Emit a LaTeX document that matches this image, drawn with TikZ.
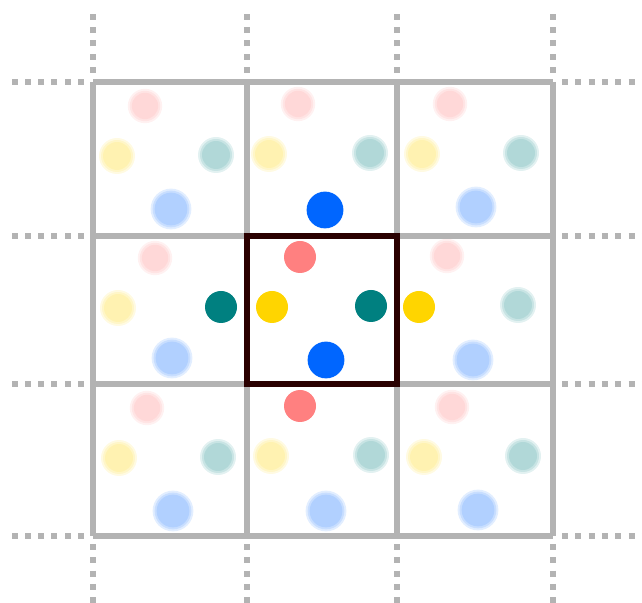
\documentclass[tikz,border=0pt]{standalone}
\usepackage{tikz}
\usepackage{xcolor}

\definecolor{atompink}{HTML}{FF8080}
\definecolor{atomyellow}{HTML}{FFD500}
\definecolor{atomteal}{HTML}{008080}
\definecolor{atomblue}{HTML}{0066FF}
\definecolor{cellgray}{HTML}{B3B3B3}
\definecolor{celldark}{HTML}{2A0000}

% blurred periodic image: centre x, centre y, colour, radius in pt
\newcommand{\fadeimg}[4]{%
  \foreach \e in {1,0,-1}
    \fill[#3,opacity=0.112] (#1,#2) circle[radius={#4pt+\e*1pt}];%
}

\begin{document}
\begin{tikzpicture}[
  x=0.5pt,  y=-0.5pt,  cellline/.style={draw=cellgray,line width=3pt},  dotline/.style={draw=cellgray,line width=3pt,dash pattern=on 3pt off 3.65pt},  atom/.style={circle,fill=#1,inner sep=0pt,minimum size=16pt},  bigatom/.style={circle,fill=#1,inner sep=0pt,minimum size=18.4pt}
]
  \useasboundingbox (0,0) rectangle (642,603);
  % faded images, corner cells
  \foreach \sx/\sy in {-155/-151,150/-153,-153/151,152/150}
    \foreach \x/\y/\c/\r in {300/257/atompink/7.6,272/307/atomyellow/8,371/306/atomteal/8,326/360/atomblue/9.2}
      \fadeimg{\x+\sx}{\y+\sy}{\c}{\r};
  % faded images, edge cells (the solid image is left out)
  \foreach \x/\y/\c/\r in {298/104/atompink/7.6,269/154/atomyellow/8,370/153/atomteal/8}
    \fadeimg{\x}{\y}{\c}{\r};
  \foreach \x/\y/\c/\r in {155/258/atompink/7.6,118/308/atomyellow/8,172/358/atomblue/9.2}
    \fadeimg{\x}{\y}{\c}{\r};
  \foreach \x/\y/\c/\r in {447/256/atompink/7.6,518/305/atomteal/8,473/360/atomblue/9.2}
    \fadeimg{\x}{\y}{\c}{\r};
  \foreach \x/\y/\c/\r in {271/456/atomyellow/8,371/455/atomteal/8,326/511/atomblue/9.2}
    \fadeimg{\x}{\y}{\c}{\r};
  % cell grid
  \foreach \x in {93,247,397,553} {
    \draw[cellline] (\x,82) -- (\x,536);
    \draw[dotline] (\x,73) -- (\x,10);
    \draw[dotline] (\x,544) -- (\x,603);
  }
  \foreach \y in {82,236,384,536} {
    \draw[cellline] (93,\y) -- (553,\y);
    \draw[dotline] (84,\y) -- (10,\y);
    \draw[dotline] (562,\y) -- (642,\y);
  }
  \draw[celldark,line width=3pt] (247,236) rectangle (397,384);
  % atoms of the unit cell
  \node[atom=atompink] (p0) at (300,257) {};
  \node[atom=atomyellow] (y0) at (272,307) {};
  \node[atom=atomteal] (t0) at (371,306) {};
  \node[bigatom=atomblue] (b0) at (326,360) {};
  % nearest images
  \node[bigatom=atomblue] (b1) at (325,210) {};
  \node[atom=atompink] (p1) at (300,406) {};
  \node[atom=atomteal] (t1) at (221,307) {};
  \node[atom=atomyellow] (y1) at (419,307) {};
\end{tikzpicture}
\end{document}
